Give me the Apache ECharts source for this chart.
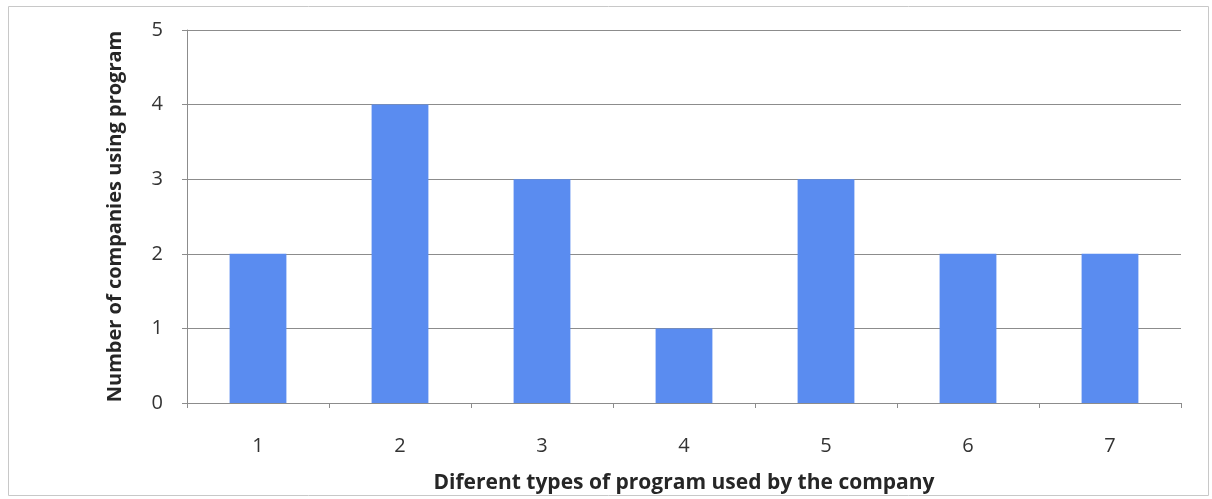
<!DOCTYPE html>
<html>
<head>
<meta charset="utf-8">
<style>
  html, body { margin: 0; padding: 0; background: #ffffff; }
  #chart { width: 1212px; height: 499px; }
</style>
<script src="https://cdn.jsdelivr.net/npm/echarts@6/dist/echarts.min.js"></script>
</head>
<body>
<div id="chart"></div>
<script>
// Program types and how many companies use each
const categories = ['1', '2', '3', '4', '5', '6', '7'];
const companyCounts = [2, 4, 3, 1, 3, 2, 2];
const yTicks = { min: 0, max: 5, interval: 1 };

const xAxisTitle = 'Diferent types of program used by the company';
const yAxisTitle = 'Number of companies using program';

const chart = echarts.init(document.getElementById('chart'), null, { renderer: 'canvas' });

const fontFamily = '"Open Sans", "Liberation Sans", sans-serif';

chart.setOption({
  animation: false,
  backgroundColor: '#ffffff',
  graphic: [
    {
      type: 'rect',
      shape: { x: 8.5, y: 6.5, width: 1200, height: 489 },
      style: { fill: 'none', stroke: '#c8c8c8', lineWidth: 1 },
      silent: true
    }
  ],
  grid: { left: 187, right: 31, top: 30, bottom: 91 },
  xAxis: {
    type: 'category',
    data: categories,
    axisLine: { show: true, lineStyle: { color: '#8c8c8c', width: 1 } },
    axisTick: { show: true, length: 5, lineStyle: { color: '#8c8c8c' } },
    axisLabel: { color: '#333333', fontSize: 20, fontFamily, margin: 33 },
    name: xAxisTitle,
    nameLocation: 'middle',
    nameGap: 70,
    nameTextStyle: { color: '#262626', fontSize: 21, fontWeight: 'bold', fontFamily }
  },
  yAxis: {
    type: 'value',
    min: yTicks.min,
    max: yTicks.max,
    interval: yTicks.interval,
    axisLine: { show: true, lineStyle: { color: '#8c8c8c', width: 1 } },
    axisTick: { show: true, length: 5, lineStyle: { color: '#8c8c8c' } },
    axisLabel: { color: '#333333', fontSize: 20, fontFamily, margin: 24 },
    splitLine: { show: true, lineStyle: { color: '#8c8c8c', width: 1 } },
    name: yAxisTitle,
    nameLocation: 'middle',
    nameGap: 62,
    nameRotate: 90,
    nameTextStyle: { color: '#262626', fontSize: 20, fontWeight: 'bold', fontFamily }
  },
  series: [
    {
      type: 'bar',
      data: companyCounts,
      barWidth: '40%',
      itemStyle: { color: '#5a8cf0' }
    }
  ]
});
</script>
</body>
</html>
